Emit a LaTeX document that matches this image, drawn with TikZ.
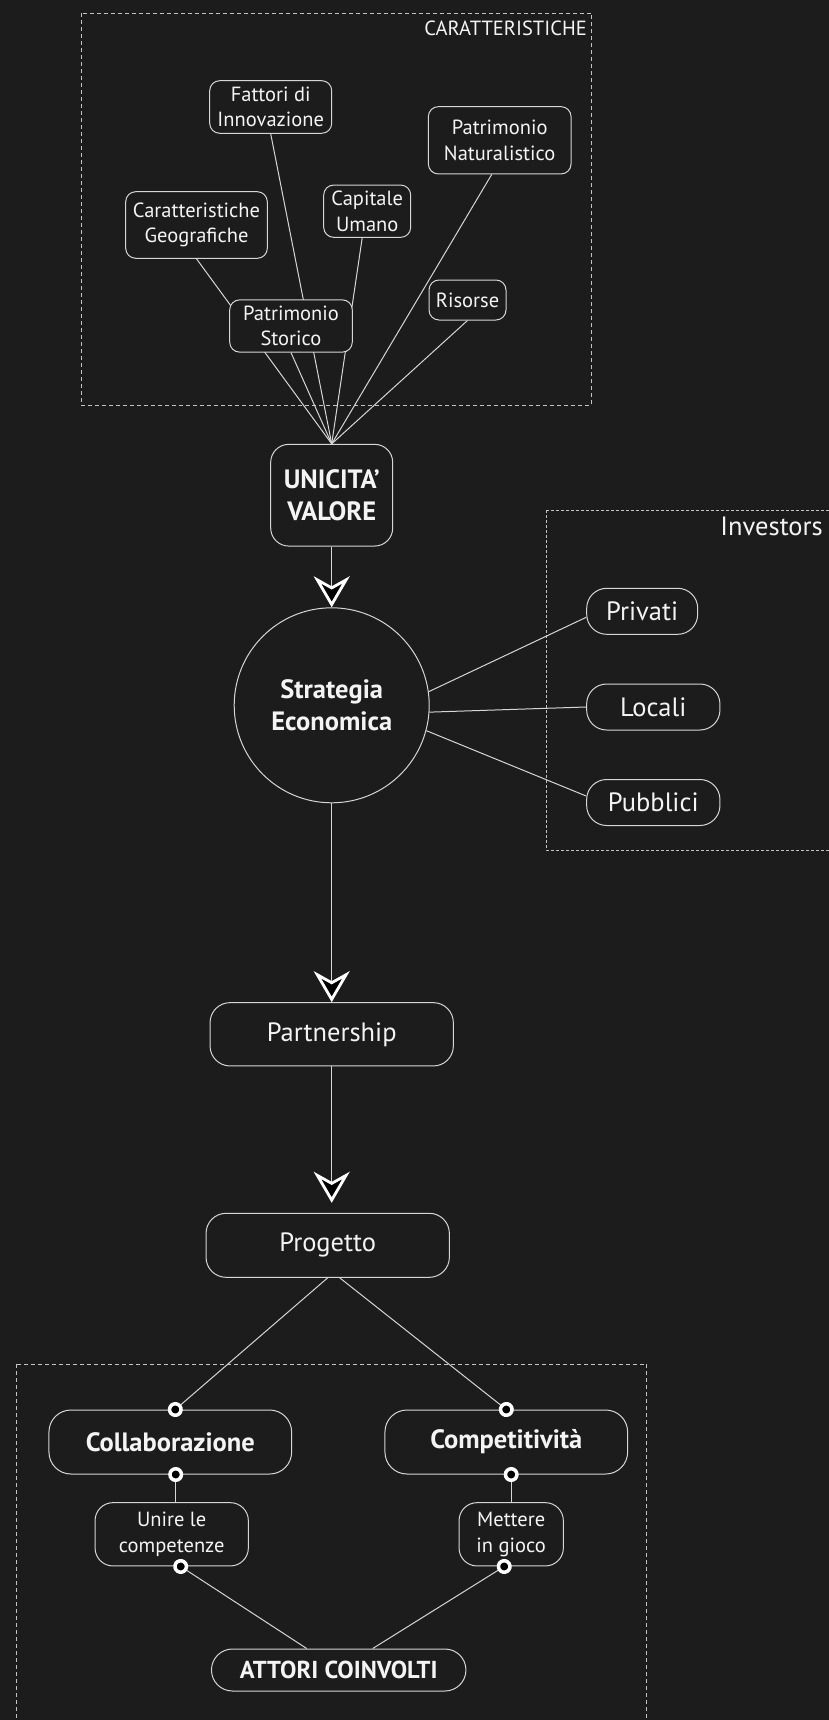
\documentclass[tikz,border=0pt]{standalone}
\usepackage{fontspec}
\setmainfont{PT Sans}
\usetikzlibrary{arrows.meta,backgrounds}
\definecolor{bgdark}{HTML}{1C1C1C}
\definecolor{edgegray}{HTML}{D6D6D6}
\definecolor{framegray}{HTML}{C4C4C4}
\definecolor{textwhite}{HTML}{F4F4F4}

\begin{document}
\begin{tikzpicture}[x=1pt, y=-1pt,
  box/.style={draw=edgegray, fill=bgdark, text=textwhite, align=center, inner sep=0pt, line width=1pt},
  smallbox/.style={box, rounded corners=10pt, font=\fontsize{20.5}{25.7}\selectfont},
  bigbox/.style={box, rounded corners=20pt, font=\fontsize{26.5}{32.3}\selectfont},
  boldbox/.style={bigbox, font=\fontsize{26.5}{32.3}\selectfont\bfseries},
  tag/.style={text=textwhite, inner sep=0pt, anchor=base east},
  frame/.style={draw=framegray, line width=0.9pt, dash pattern=on 4pt off 3pt},
  link/.style={draw=edgegray, line width=1pt},
  flow/.style={link, -{Stealth[length=31pt, width=36pt, inset=10pt, color=white, fill=black, line width=2.8pt]}},
  dotstart/.style={link, {Circle[length=15pt, color=white, fill=black, line width=3.5pt]}-, shorten <=-7.5pt},
  dotend/.style={link, -{Circle[length=15pt, color=white, fill=black, line width=3.5pt]}, shorten >=-7.5pt}]
\useasboundingbox (0,0) rectangle (829,1720);

% caratteristiche
\node[tag, font=\fontsize{20.5}{24}\selectfont] (carlab) at (587,36) {CARATTERISTICHE};
\node[smallbox, minimum width=122pt, minimum height=52.6pt] (fatt) at (270.7,107) {Fattori di\\Innovazione};
\node[smallbox, minimum width=141.6pt, minimum height=66.6pt] (geo) at (196.5,225) {Caratteristiche\\Geografiche};
\node[smallbox, minimum width=87pt, minimum height=52.3pt] (cap) at (367.2,211.2) {Capitale\\Umano};
\node[smallbox, minimum width=142.7pt, minimum height=67.3pt] (nat) at (499.7,140.3) {Patrimonio\\Naturalistico};
\node[smallbox, minimum width=77pt, minimum height=40pt] (ris) at (467.5,300) {Risorse};
\node[smallbox, minimum width=122.6pt, minimum height=52.3pt] (stor) at (291,326) {Patrimonio\\Storico};

% centro
\node[boldbox, rounded corners=18pt, minimum width=122pt, minimum height=101.7pt] (uni) at (331.7,495.2) {UNICITA’\\VALORE};
\node[box, circle, minimum size=195pt, font=\fontsize{26.5}{32.3}\selectfont\bfseries] (strat) at (331.7,705.3) {Strategia\\Economica};
\node[bigbox, minimum width=243.3pt, minimum height=63.3pt] (part) at (331.7,1034.3) {Partnership};
\node[bigbox, minimum width=243.3pt, minimum height=64pt] (prog) at (327.7,1245.3) {Progetto};

% investors
\node[tag, font=\fontsize{26.5}{30}\selectfont] (invlab) at (823,535) {Investors};
\node[bigbox, minimum width=111pt, minimum height=46pt] (priv) at (642.2,611.3) {Privati};
\node[bigbox, minimum width=133.3pt, minimum height=46pt] (loc) at (653.3,707) {Locali};
\node[bigbox, minimum width=133.3pt, minimum height=46pt] (pub) at (653.3,802.5) {Pubblici};

% attori
\node[boldbox, rounded corners=22pt, minimum width=242.7pt, minimum height=64pt] (coll) at (170.3,1442) {Collaborazione};
\node[boldbox, rounded corners=22pt, minimum width=242.7pt, minimum height=64pt] (comp) at (506.3,1442) {Competitività};
\node[smallbox, rounded corners=18pt, minimum width=153.3pt, minimum height=63.3pt] (unire) at (171.7,1534.3) {Unire le\\competenze};
\node[smallbox, rounded corners=18pt, minimum width=104.3pt, minimum height=63.3pt] (mett) at (511.2,1534.3) {Mettere\\in gioco};
\node[boldbox, rounded corners=21pt, minimum width=254.5pt, minimum height=42pt, font=\fontsize{24.5}{28}\selectfont\bfseries] (att) at (338.7,1670) {ATTORI COINVOLTI};

\begin{scope}[on background layer]
\fill[bgdark] (0,0) rectangle (829,1720);
\draw[frame] (81,13.3) rectangle (591.7,405);
\draw[frame, dash pattern=on 3pt off 2pt] (546,510) rectangle (840,850);
\draw[frame] (16,1364.3) rectangle (646.7,1730);
\foreach \src in {geo,fatt,stor,ris}
  \draw[link] (\src.south) -- (uni.north);
\draw[link] ([xshift=-5pt]cap.south) -- (uni.north);
\draw[link] ([xshift=-8pt]nat.south) -- (uni.north);
\end{scope}

\draw[flow] (uni) -- (strat);
\draw[flow] (strat) -- (part);
\draw[flow, shorten >=10pt] (part) -- (part |- prog.north);

\draw[link] (strat.8) -- ([yshift=-6pt]priv.west);
\draw[link] (strat.-4) -- (loc.west);
\draw[link] (strat.-15) -- ([yshift=6.5pt]pub.west);

\draw[dotend] (prog.south) -- ([xshift=5pt]coll.north);
\draw[dotend] ([xshift=12pt]prog.south) -- (comp.north);
\draw[dotstart] ([xshift=4pt]unire.north |- coll.south) -- ([xshift=4pt]unire.north);
\draw[dotstart] (mett.north |- comp.south) -- (mett.north);
\draw[dotstart] ([xshift=9pt]unire.south) -- ([xshift=-32pt]att.north);
\draw[dotstart] ([xshift=-7pt]mett.south) -- ([xshift=34pt]att.north);
\end{tikzpicture}
\end{document}
